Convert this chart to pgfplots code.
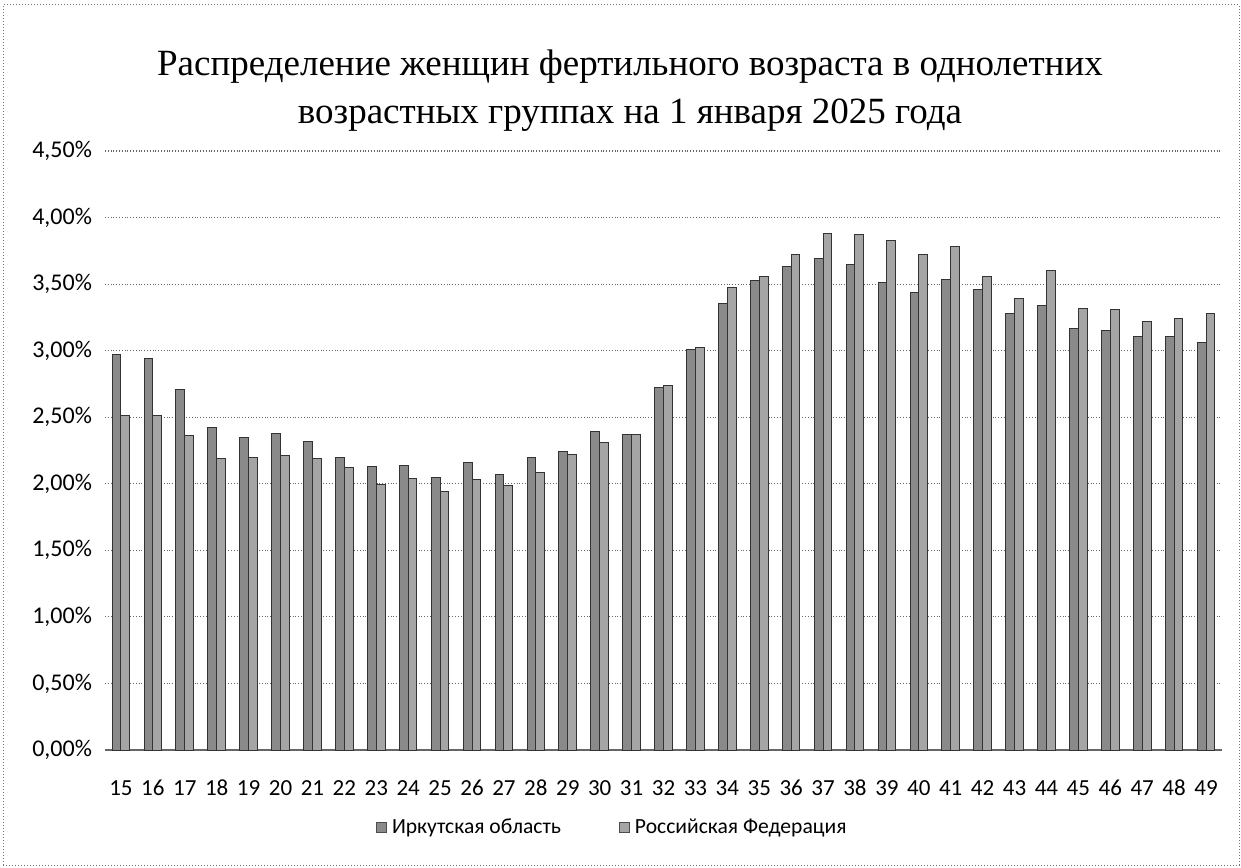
\documentclass[border=0pt]{standalone}
\usepackage{fontspec}
\setmainfont{Liberation Serif}
\newfontfamily\calibri{Carlito}
\usepackage{pgfplots}
\pgfplotsset{compat=1.18}
\definecolor{IrkC}{HTML}{8A8A8A}
\definecolor{RfC}{HTML}{A5A5A5}

\begin{document}
\begin{tikzpicture}
\useasboundingbox (0,0) rectangle (620.5pt,433.5pt);
\draw[black!55, densely dotted, line width=.5pt] (1.5pt,1pt) rectangle (619.5pt,431pt);
\begin{axis}[
  at={(52.5pt,58.5pt)}, anchor=south west,
  scale only axis, width=558.5pt, height=299.5pt,
  ybar=0pt, bar width=4.4pt,
  xmin=14.5, xmax=49.5, ymin=0, ymax=4.5,
  axis y line*=left, axis x line*=bottom,
  y axis line style={draw=none},
  x axis line style={draw=black!60, line width=.6pt},
  tick style={draw=none},
  xtick={15,...,49},
  ytick={0,0.5,...,4.5},
  yticklabels={{0,00\%},{0,50\%},{1,00\%},{1,50\%},{2,00\%},{2,50\%},{3,00\%},{3,50\%},{4,00\%},{4,50\%}},
  /pgf/number format/assume math mode=true,
  xticklabel style={font=\calibri\fontsize{11.5}{13}\selectfont, text height=8pt, text depth=0pt, yshift=-7pt},
  yticklabel style={font=\calibri\fontsize{12}{14}\selectfont, xshift=-3pt},
  ymajorgrids=true, grid style={draw=black!60, densely dotted, line width=.6pt},
  title={Распределение женщин фертильного возраста в однолетних\\возрастных группах на 1 января 2025 года},
  title style={font=\fontsize{18.5}{24}\selectfont, align=center, at={(0.47,1)}, anchor=south, yshift=0pt},
  legend style={draw=none, fill=none, at={(0.455,-0.13)}, anchor=center,
    font=\calibri\fontsize{10.8}{12}\selectfont, legend columns=2,
    /tikz/every even column/.append style={column sep=27pt}},
  legend image code/.code={\draw[#1, draw=black!70] (0pt,-2.5pt) rectangle (5pt,2.5pt); \path (5.5pt,0pt);},
]
\addplot[fill=IrkC, draw=black!80, line width=.5pt] coordinates {
  (15,2.97) (16,2.94) (17,2.71) (18,2.42) (19,2.35) (20,2.38) (21,2.32)
  (22,2.20) (23,2.13) (24,2.14) (25,2.05) (26,2.16) (27,2.07) (28,2.20)
  (29,2.24) (30,2.39) (31,2.37) (32,2.72) (33,3.01) (34,3.355) (35,3.53)
  (36,3.63) (37,3.69) (38,3.645) (39,3.51) (40,3.44) (41,3.535) (42,3.46)
  (43,3.28) (44,3.34) (45,3.17) (46,3.155) (47,3.11) (48,3.105) (49,3.06)};
\addplot[fill=RfC, draw=black!80, line width=.5pt] coordinates {
  (15,2.51) (16,2.51) (17,2.365) (18,2.19) (19,2.20) (20,2.21) (21,2.19)
  (22,2.12) (23,1.995) (24,2.04) (25,1.94) (26,2.03) (27,1.99) (28,2.085)
  (29,2.22) (30,2.31) (31,2.37) (32,2.74) (33,3.025) (34,3.475) (35,3.56)
  (36,3.72) (37,3.88) (38,3.87) (39,3.83) (40,3.72) (41,3.78) (42,3.56)
  (43,3.39) (44,3.60) (45,3.32) (46,3.31) (47,3.22) (48,3.245) (49,3.28)};
\legend{Иркутская область, Российская Федерация}
\end{axis}
\end{tikzpicture}
\end{document}
